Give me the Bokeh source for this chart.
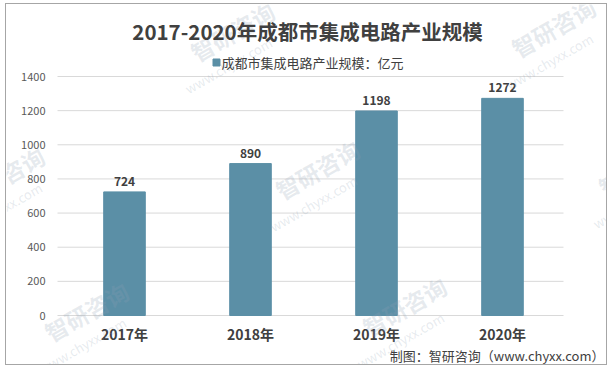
from bokeh.plotting import figure
from bokeh.models import ColumnDataSource, Range1d
from bokeh.core.properties import value
from bokeh.embed import file_html
from bokeh.resources import INLINE

years = ["2017年", "2018年", "2019年", "2020年"]
values = [724, 890, 1198, 1272]
yticks = [0, 200, 400, 600, 800, 1000, 1200, 1400]
title_text = "2017-2020年成都市集成电路产业规模"
series_name = "成都市集成电路产业规模：亿元"
source_text = "制图：智研咨询（www.chyxx.com）"
wm_name = "智研咨询"
wm_site = "www.chyxx.com"

FONT = value("Noto Sans CJK SC")
BAR = "#5b8fa6"
TXT = "#404040"

# page-pixel layout (the frame covers the whole canvas)
W, H = 602, 362
OX, OY = 6, 4            # canvas origin on the page
PX0, STEP = 61, 126.0    # page x of category-axis start, pixels per category
PY0, PY1 = 315, 76       # page y of value 0 and of value 1400
YMAX = 1400
k = (PY0 - PY1) / YMAX

def fx(px):
    return (px - PX0) / STEP

def fy(py):
    return (PY0 - py) / k

p = figure(width=W, height=H, output_backend="svg", toolbar_location=None,
           x_range=Range1d(fx(OX), fx(OX + W)), y_range=Range1d(fy(OY + H), fy(OY)),
           x_axis_location=None, y_axis_location=None,
           min_border=0, min_border_left=0, min_border_right=0,
           min_border_top=0, min_border_bottom=0)
p.styles = {"border": "1px solid #a6a6a6", "margin-left": "5px", "margin-top": "3px"}
p.outline_line_color = None
p.grid.visible = False
p.background_fill_color = "white"
p.border_fill_color = "white"

xs = [i + 0.5 for i in range(len(years))]

# gridlines
p.segment(x0=[fx(57)] * len(yticks), x1=[fx(563)] * len(yticks), y0=yticks, y1=yticks,
          line_color="#d9d9d9", line_width=1)
# y tick labels
p.text(x=[fx(45)] * len(yticks), y=yticks, text=[str(t) for t in yticks],
       text_align="right", text_baseline="middle", text_font=FONT,
       text_font_size="11px", text_color="#595959")

# bars
src = ColumnDataSource(dict(x=xs, top=values, lab=[str(v) for v in values], yr=years))
p.vbar(x="x", top="top", bottom=0, width=0.33, color=BAR, source=src)
p.text(x="x", y="top", text="lab", source=src, y_offset=-6, text_align="center",
       text_baseline="bottom", text_font_size="12px", text_font_style="bold",
       text_color=TXT, text_font=FONT)

# category labels
p.text(x="x", y=fy(333), text="yr", source=src, text_align="center", text_baseline="middle",
       text_font_size="14px", text_font_style="bold", text_color=TXT, text_font=FONT)

# watermarks (faint, rotated)
wm_px = [232, 553, 317, 86, 404, 640, 2]
wm_py = [31, 27, 169, 311, 306, 166, 176]
p.text(x=[fx(v) for v in wm_px], y=[fy(v) for v in wm_py], text=[wm_name] * len(wm_px),
       angle=0.52, text_align="center", text_baseline="middle", text_font=FONT,
       text_font_size="23px", text_font_style="bold", text_color="#8fa0b4", text_alpha=0.22)
p.text(x=[fx(v - 4) for v in wm_px], y=[fy(v + 34) for v in wm_py], text=[wm_site] * len(wm_px),
       angle=0.52, text_align="center", text_baseline="middle", text_font=FONT,
       text_font_size="13px", text_color="#8fa0b4", text_alpha=0.22)

# title
p.text(x=[fx(307)], y=[fy(30)], text=[title_text], text_align="center", text_baseline="middle",
       text_font_size="20.5px", text_font_style="bold", text_color=TXT, text_font=FONT)

# legend
p.scatter(x=[fx(216)], y=[fy(62)], marker="square", size=7, color=BAR)
p.text(x=[fx(221)], y=[fy(62)], text=[series_name], text_align="left", text_baseline="middle",
       text_font_size="13px", text_color=TXT, text_font=FONT)

# source
p.text(x=[fx(604)], y=[fy(355)], text=[source_text], text_align="right", text_baseline="middle",
       text_font_size="13px", text_color=TXT, text_font=FONT)

open("out.html", "w").write(file_html(p, INLINE))
